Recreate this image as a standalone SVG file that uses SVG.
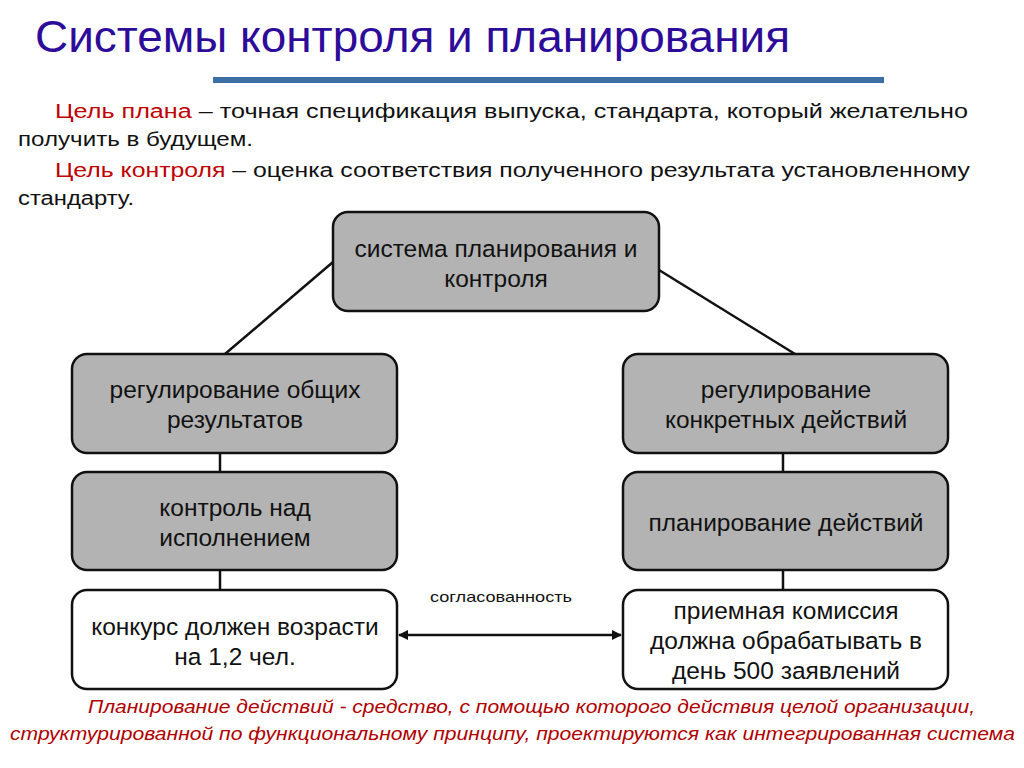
<svg xmlns="http://www.w3.org/2000/svg" width="1024" height="768" viewBox="0 0 1024 768">
<style>
.nt{font-family:"Liberation Sans",Arial,sans-serif;font-size:24.5px;fill:#111;text-anchor:middle}
.g{fill:#b3b3b3;stroke:#111;stroke-width:2.5}
.w{fill:#fff;stroke:#111;stroke-width:2.5}
.p{font-family:"Liberation Sans",Arial,sans-serif;font-size:20px;fill:#111}
.red{fill:#c00000}
.c{stroke:#111;stroke-width:2.5;fill:none}
.bt{font-family:"Liberation Sans",Arial,sans-serif;font-size:19px;font-style:italic;fill:#b00000}
</style>
<defs>
<marker id="ah" viewBox="0 0 10 10" refX="9" refY="5" markerWidth="4" markerHeight="4" orient="auto-start-reverse">
<path d="M0,0 L10,5 L0,10 z" fill="#111"/>
</marker>
</defs>
<rect width="1024" height="768" fill="#fff"/>
<text x="35" y="52" font-family="Liberation Sans,Arial,sans-serif" font-size="44" fill="#2e0c9a" textLength="755" lengthAdjust="spacingAndGlyphs">Системы контроля и планирования</text>
<rect x="213" y="77" width="671" height="6" fill="#3a6ea5"/>
<text class="p" x="55" y="118" textLength="913" lengthAdjust="spacingAndGlyphs"><tspan class="red">Цель плана</tspan> – точная спецификация выпуска, стандарта, который желательно</text>
<text class="p" x="18" y="146" textLength="235" lengthAdjust="spacingAndGlyphs">получить в будущем.</text>
<text class="p" x="55" y="177" textLength="915" lengthAdjust="spacingAndGlyphs"><tspan class="red">Цель контроля</tspan> – оценка соответствия полученного результата установленному</text>
<text class="p" x="18" y="205" textLength="116" lengthAdjust="spacingAndGlyphs">стандарту.</text>
<g id="connectors">
<line class="c" x1="333" y1="262" x2="225" y2="354"/>
<line class="c" x1="659" y1="270" x2="795" y2="354"/>
<line class="c" x1="220" y1="453" x2="220" y2="472"/>
<line class="c" x1="220" y1="570" x2="220" y2="590"/>
<line class="c" x1="783" y1="453" x2="783" y2="472"/>
<line class="c" x1="783" y1="570" x2="783" y2="590"/>
<line class="c" x1="399" y1="635" x2="621" y2="635" marker-start="url(#ah)" marker-end="url(#ah)"/>
<text x="430" y="602" font-family="Liberation Sans,Arial,sans-serif" font-size="15" fill="#111" textLength="142" lengthAdjust="spacingAndGlyphs">согласованность</text>
</g>
<g id="n-top">
<rect class="g" x="333" y="212" width="326" height="99" rx="15"/>
<text class="nt" x="496" y="257">система планирования и</text>
<text class="nt" x="496" y="287">контроля</text>
</g>
<g id="n-l1">
<rect class="g" x="72" y="354" width="325" height="99" rx="15"/>
<text class="nt" x="235" y="398">регулирование общих</text>
<text class="nt" x="235" y="428">результатов</text>
</g>
<g id="n-r1">
<rect class="g" x="623" y="354" width="325" height="99" rx="15"/>
<text class="nt" x="786" y="398">регулирование</text>
<text class="nt" x="786" y="428">конкретных действий</text>
</g>
<g id="n-l2">
<rect class="g" x="72" y="472" width="325" height="98" rx="15"/>
<text class="nt" x="235" y="516">контроль над</text>
<text class="nt" x="235" y="546">исполнением</text>
</g>
<g id="n-r2">
<rect class="g" x="623" y="472" width="325" height="98" rx="15"/>
<text class="nt" x="786" y="531">планирование действий</text>
</g>
<g id="n-l3">
<rect class="w" x="72" y="590" width="325" height="99" rx="15"/>
<text class="nt" x="235" y="635">конкурс должен возрасти</text>
<text class="nt" x="235" y="665">на 1,2 чел.</text>
</g>
<g id="n-r3">
<rect class="w" x="623" y="590" width="325" height="99" rx="15"/>
<text class="nt" x="786" y="619">приемная комиссия</text>
<text class="nt" x="786" y="649">должна обрабатывать в</text>
<text class="nt" x="786" y="679">день 500 заявлений</text>
</g>
<text class="bt" x="88" y="713" textLength="887" lengthAdjust="spacingAndGlyphs">Планирование действий - средство, с помощью которого действия целой организации,</text>
<text class="bt" x="10" y="740" textLength="1005" lengthAdjust="spacingAndGlyphs">структурированной по функциональному принципу, проектируются как интегрированная система</text>
</svg>
